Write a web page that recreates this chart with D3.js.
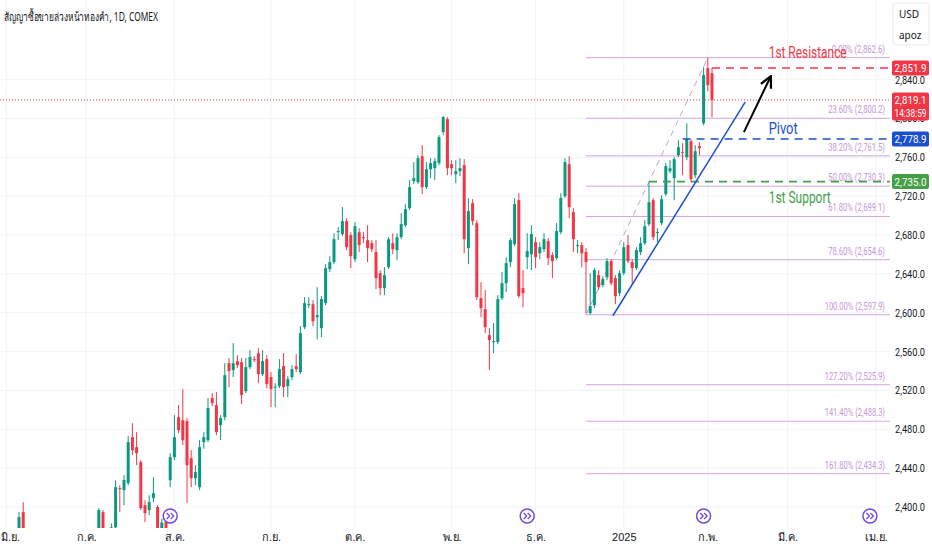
<!DOCTYPE html>
<html>
<head>
<meta charset="utf-8">
<script src="https://cdn.jsdelivr.net/npm/d3@7"></script>
<style>
  body { margin: 0; background: #fff; }
  svg { display: block; font-family: "Noto Sans", "DejaVu Sans", Roboto, sans-serif; }
</style>
</head>
<body>
<script>
// daily bars, 3 Jun 2024 .. 4 Feb 2025 : [open, high, low, close]
const ohlc = [
  [2348, 2375, 2340, 2369], [2369, 2374, 2337, 2347], [2347, 2378, 2346, 2375], [2375, 2394.7, 2372, 2389.6],
  [2394.7, 2405, 2320, 2325], [2325, 2336, 2303, 2327], [2327, 2342, 2318, 2330], [2330, 2355, 2315, 2340],
  [2340, 2346, 2313, 2319], [2319, 2352, 2307, 2348], [2348, 2352, 2320, 2330], [2330, 2350, 2327, 2346],
  [2347, 2372, 2343, 2369], [2369, 2370, 2320, 2333], [2333, 2345, 2325, 2334], [2334, 2342, 2317, 2330],
  [2330, 2334, 2305, 2313], [2313, 2338, 2310, 2336], [2336, 2346, 2326, 2339], [2339, 2342, 2326, 2333],
  [2333, 2345, 2325, 2341], [2341, 2372, 2338, 2369], [2369, 2398.8, 2362, 2396.8], [2394.7, 2396.8, 2355, 2365],
  [2365, 2373, 2354, 2371], [2371, 2383, 2366, 2379], [2379, 2427.6, 2370, 2420.4], [2419.4, 2422.5, 2394.7, 2418.4],
  [2417.4, 2432.8, 2401.9, 2427.7], [2424.6, 2472.9, 2422.5, 2466.8], [2471.9, 2486.3, 2453.4, 2458.5], [2461.6, 2477, 2443.1, 2455.4],
  [2446.2, 2448.2, 2396.8, 2398.8], [2401.9, 2407, 2384.4, 2393.7], [2396.8, 2412.2, 2391.6, 2405], [2409.1, 2430.7, 2405, 2414.3],
  [2400, 2402, 2353, 2362], [2362, 2388, 2355, 2384], [2384.6, 2390, 2368, 2374], [2427.6, 2455.4, 2420.4, 2451.3],
  [2451.3, 2494.6, 2448.2, 2471.9], [2492.5, 2504.9, 2476, 2479.1], [2489.4, 2521.3, 2463.7, 2468.8], [2488.4, 2491.5, 2404, 2443.1],
  [2450.3, 2458.5, 2420.4, 2429.7], [2429.7, 2443.1, 2422.5, 2435.9], [2420.4, 2468.8, 2417.4, 2461.6], [2466.8, 2477, 2460, 2471.9],
  [2468.8, 2512.1, 2466.8, 2501.8], [2512.1, 2517.2, 2503.8, 2506.9], [2504.9, 2518.2, 2474, 2477.1], [2484.3, 2494.6, 2468.8, 2491.5],
  [2492.5, 2548.1, 2489.4, 2535.7], [2548.1, 2553.3, 2523.4, 2539.9], [2540.9, 2568.7, 2533.7, 2548.1], [2550.2, 2556.3, 2543, 2546],
  [2549.1, 2553.3, 2505.9, 2515.2], [2519.3, 2553.3, 2517.2, 2544], [2544, 2561.5, 2541.9, 2554.3], [2552.2, 2555.3, 2549.1, 2551.7],
  [2558.4, 2563.5, 2527.5, 2536.8], [2536.8, 2561.5, 2534.7, 2550.2], [2552.2, 2556.3, 2522.4, 2526.5], [2533.7, 2538.8, 2502.8, 2521.3],
  [2523.4, 2527.5, 2502.8, 2523.9], [2524.4, 2552.2, 2522.4, 2541.9], [2545, 2558.4, 2513.1, 2523.4], [2524.4, 2534.7, 2513.1, 2531.6],
  [2533.7, 2546, 2530.6, 2541.9], [2545, 2557.4, 2538.8, 2541.9], [2538.8, 2586.2, 2536.8, 2579], [2585.1, 2616, 2583.1, 2609.9],
  [2607.8, 2616, 2604.7, 2608.8], [2608.8, 2613, 2586.2, 2591.3], [2595.4, 2626.3, 2572.8, 2597.5], [2584.1, 2617.1, 2574.9, 2614],
  [2609.9, 2650, 2607.8, 2645.9], [2644.9, 2658.2, 2641.8, 2652.1], [2652.1, 2681.9, 2650, 2675.7], [2682.9, 2688.1, 2674.7, 2684],
  [2680.9, 2708.7, 2678.8, 2694.3], [2694.3, 2697.4, 2664.4, 2667.5], [2679.9, 2682.9, 2645.9, 2658.2], [2655.1, 2693.2, 2652.1, 2689.1],
  [2682.9, 2687, 2662.4, 2669.6], [2677.8, 2682.9, 2671.6, 2677.3], [2674.7, 2690.1, 2652.1, 2666.5], [2671.6, 2674.7, 2662.4, 2665.4],
  [2662.4, 2674.7, 2624.3, 2635.6], [2640.7, 2643.8, 2618.1, 2625.3], [2625.3, 2646.9, 2618.1, 2638.7], [2646.9, 2677.8, 2644.9, 2675.7],
  [2671.6, 2681.9, 2660.3, 2665.4], [2664.4, 2681.9, 2654.1, 2677.8], [2677.8, 2702.5, 2675.7, 2691.2], [2690.1, 2711.8, 2688.1, 2706.6],
  [2707.6, 2736.5, 2705.6, 2729.3], [2735.4, 2755, 2732.4, 2738.5], [2734.4, 2762.2, 2732.4, 2759.1], [2761.2, 2772.5, 2722.1, 2729.3],
  [2729.3, 2755, 2727.2, 2747.8], [2747.8, 2759.1, 2738.5, 2754], [2748.8, 2759.1, 2736.5, 2756], [2754, 2782.8, 2751.9, 2780.7],
  [2785.9, 2802.4, 2782.8, 2801.3], [2799.3, 2801.3, 2741.6, 2748.8], [2752.9, 2757, 2741.6, 2748.8], [2742.6, 2757, 2733.4, 2745.7],
  [2745.7, 2759.1, 2740.6, 2748.8], [2751.9, 2758.1, 2661.3, 2675.7], [2666.5, 2717.9, 2650, 2704.6], [2712.8, 2716.9, 2690.1, 2694.3],
  [2692.2, 2695.3, 2613, 2616], [2615, 2631.5, 2595.4, 2604.7], [2603.7, 2623.2, 2579, 2585.1], [2576.9, 2584.1, 2540.9, 2571.8],
  [2569.7, 2589.3, 2558.4, 2570.7], [2569.7, 2618.1, 2567.6, 2614], [2615, 2641.8, 2613, 2630.4], [2630.4, 2657.2, 2621.2, 2651],
  [2652.1, 2676.8, 2646.9, 2674.7], [2670.6, 2717.9, 2668.5, 2711.8], [2715.9, 2723.1, 2615, 2617.1], [2625.3, 2643.8, 2605.7, 2620.1],
  [2657.2, 2681.9, 2644.9, 2663.4], [2660.3, 2690.1, 2643.8, 2680.9], [2672.6, 2677.8, 2645.9, 2657.2], [2661.3, 2672.6, 2655.1, 2667.5],
  [2665.4, 2681.9, 2662.4, 2675.7], [2673.7, 2676.8, 2649, 2656.2], [2659.3, 2662.4, 2635.6, 2653.1], [2656.2, 2692.2, 2654.1, 2684],
  [2682.9, 2723.1, 2680.9, 2718], [2720, 2759.1, 2718, 2755], [2752.9, 2761.2, 2697.4, 2708.7], [2703.5, 2707.6, 2662.4, 2675.7],
  [2668.5, 2674.7, 2661.3, 2669.6], [2669.6, 2672.6, 2646.9, 2661.3], [2662.4, 2666.5, 2599.6, 2652.1], [2599.6, 2640.7, 2597.9, 2606.8],
  [2607.8, 2645.9, 2604.7, 2643.8], [2638.7, 2643.8, 2623.2, 2626.3], [2628.4, 2637.6, 2626.3, 2634.6], [2636.6, 2656.2, 2633.5, 2653.1],
  [2653.1, 2655.1, 2628.4, 2630.4], [2635.6, 2638.7, 2608.8, 2617.1], [2620.1, 2643.8, 2617.1, 2640.7], [2640.7, 2672.6, 2638.7, 2667.5],
  [2669.6, 2679.9, 2651, 2653.1], [2652.1, 2655.1, 2628.4, 2645.9], [2645.9, 2667.5, 2643.8, 2664.4], [2662.4, 2677.8, 2659.3, 2671.6],
  [2671.6, 2695.3, 2669.6, 2689.1], [2691.2, 2734.4, 2689.1, 2713.8], [2715.9, 2718, 2674.7, 2677.8], [2681.9, 2687, 2672.6, 2682.9],
  [2692.2, 2721, 2690.1, 2716.9], [2722.1, 2754, 2720, 2750.9], [2745.7, 2757, 2743.7, 2748.8], [2738.5, 2760.1, 2715.9, 2758.1],
  [2762.2, 2777.6, 2760.1, 2770.4], [2765.3, 2774.6, 2741.6, 2764.3], [2760.1, 2795.1, 2757, 2778.7], [2776.6, 2778.7, 2734.4, 2737.5],
  [2741.6, 2772.5, 2738.5, 2766.3], [2771.5, 2775.6, 2762.2, 2769.4], [2795.1, 2852.8, 2793, 2844.6], [2851.8, 2862.6, 2828, 2834.3],
  [2846.6, 2852, 2801.3, 2819.1],
];

const monthLabels = ["มิ.ย.", "ก.ค.", "ส.ค.", "ก.ย.", "ต.ค.", "พ.ย.", "ธ.ค.", "2025", "ก.พ.", "มี.ค.", "เม.ย."];
const monthIdx = [0, 19, 40, 63, 83, 106, 126, 147, 167, 186, 207];
const priceTicks = [2400, 2440, 2480, 2520, 2560, 2600, 2640, 2680, 2720, 2760, 2800, 2840];

const fibPct = ["0.00%", "23.60%", "38.20%", "50.00%", "61.80%", "78.60%", "100.00%", "127.20%", "141.40%", "161.80%"];
const fibPrice = [2862.6, 2800.2, 2761.5, 2730.3, 2699.1, 2654.6, 2597.9, 2525.9, 2488.3, 2434.3];
const fibStart = 138;
const fibTrend = [[138, 2597.9], [167, 2862.6]];

const levelNames = ["1st Resistance", "Pivot", "1st Support"];
const levelPrices = [2851.9, 2778.9, 2735.0];
const levelStart = [168, 161, 153];
const levelColors = ["#f23645", "#1c4fcf", "#43a047"];

const trendLine = [[144.4, 2596.9], [175.9, 2816.8]];
const arrowPts = [[175.6, 2785.9], [182, 2843.5]];
const rollIdx = [39, 124, 166, 205.6];

const lastPrice = 2819.1;
const countdown = "14:38:59";
const title = "สัญญาซื้อขายล่วงหน้าทองคำ, 1D, COMEX";

const w = 932;
const h = 550;
const plotR = 890;
const plotB = 528;
const up = "#089981";
const down = "#f23645";
const narrow = "Roboto, 'DejaVu Sans', sans-serif";

const xScale = d3.scaleLinear().domain([0, ohlc.length - 1]).range([6.4, 712]);
const yScale = d3.scaleLinear().domain([2400, 2840]).range([507, 79.6]);
const fmt = d3.format(",.1f");

const svg = d3.select("body").append("svg").attr("width", w).attr("height", h);

svg.append("defs").append("clipPath").attr("id", "plot")
  .append("rect").attr("x", 0).attr("y", 0).attr("width", plotR).attr("height", plotB);

svg.select("defs").append("marker")
  .attr("id", "head").attr("viewBox", "0 0 10 10")
  .attr("refX", 9).attr("refY", 5)
  .attr("markerWidth", 14).attr("markerHeight", 14)
  .attr("markerUnits", "userSpaceOnUse").attr("orient", "auto")
  .append("path").attr("d", "M1,1 L9,5 L1,9")
  .attr("fill", "none").attr("stroke", "#000").attr("stroke-width", 1.6);

//grid
const grid = svg.append("g").attr("clip-path", "url(#plot)");
grid.selectAll("line.h").data(priceTicks).enter().append("line")
  .attr("x1", 0).attr("x2", plotR)
  .attr("y1", (d) => yScale(d)).attr("y2", (d) => yScale(d))
  .attr("stroke", "#f0f3fa");
grid.selectAll("line.v").data(monthIdx).enter().append("line")
  .attr("x1", (d) => xScale(d)).attr("x2", (d) => xScale(d))
  .attr("y1", 0).attr("y2", plotB)
  .attr("stroke", "#f0f3fa");

const plot = svg.append("g").attr("clip-path", "url(#plot)");

// fib retracement
plot.selectAll("line.fib").data(fibPrice).enter().append("line")
  .attr("x1", xScale(fibStart)).attr("x2", plotR)
  .attr("y1", (d) => yScale(d)).attr("y2", (d) => yScale(d))
  .attr("stroke", "#d4a5df").attr("stroke-width", 1);

plot.selectAll("text.fib").data(fibPrice).enter().append("text")
  .attr("x", 885).attr("y", (d) => yScale(d) - 5)
  .attr("text-anchor", "end").attr("font-size", 11).attr("fill", "#c796d6")
  .attr("font-family", narrow)
  .attr("lengthAdjust", "spacingAndGlyphs")
  .attr("textLength", (d, i) => `${fibPct[i]} (${fmt(d)})`.length * 3.55)
  .text((d, i) => `${fibPct[i]} (${fmt(d)})`);

plot.append("line")
  .attr("x1", xScale(fibTrend[0][0])).attr("y1", yScale(fibTrend[0][1]))
  .attr("x2", xScale(fibTrend[1][0])).attr("y2", yScale(fibTrend[1][1]))
  .attr("stroke", "#c99ad6").attr("stroke-width", 1).attr("stroke-dasharray", "6,5");

// last price dotted
plot.append("line")
  .attr("x1", 0).attr("x2", plotR)
  .attr("y1", yScale(lastPrice)).attr("y2", yScale(lastPrice))
  .attr("stroke", down).attr("stroke-width", 1).attr("stroke-dasharray", "1,2");

// candles
const candle = plot.selectAll("g.c").data(ohlc).enter().append("g");
candle.append("line")
  .attr("x1", (d, i) => xScale(i)).attr("x2", (d, i) => xScale(i))
  .attr("y1", (d) => yScale(d[1])).attr("y2", (d) => yScale(d[2]))
  .attr("stroke", (d) => (d[3] >= d[0] ? up : down)).attr("stroke-width", 1);
candle.append("rect")
  .attr("x", (d, i) => xScale(i) - 1.5)
  .attr("width", 3)
  .attr("y", (d) => yScale(Math.max(d[0], d[3])))
  .attr("height", (d) => Math.max(1, Math.abs(yScale(d[0]) - yScale(d[3]))))
  .attr("fill", (d) => (d[3] >= d[0] ? up : down));

// level lines
plot.selectAll("line.lvl").data(levelPrices).enter().append("line")
  .attr("x1", (d, i) => xScale(levelStart[i])).attr("x2", plotR)
  .attr("y1", (d) => yScale(d)).attr("y2", (d) => yScale(d))
  .attr("stroke", (d, i) => levelColors[i]).attr("stroke-width", 1.6)
  .attr("stroke-dasharray", "8,6");

plot.selectAll("text.lvl").data(levelPrices).enter().append("text")
  .attr("x", xScale(181.5))
  .attr("y", (d, i) => yScale(d) + [-10, -5, 21][i])
  .attr("font-size", 16).attr("fill", (d, i) => levelColors[i])
  .attr("font-family", narrow)
  .attr("lengthAdjust", "spacingAndGlyphs")
  .attr("textLength", (d, i) => [78, 29, 62][i])
  .text((d, i) => levelNames[i]);

// trend line + arrow
plot.append("line")
  .attr("x1", xScale(trendLine[0][0])).attr("y1", yScale(trendLine[0][1]))
  .attr("x2", xScale(trendLine[1][0])).attr("y2", yScale(trendLine[1][1]))
  .attr("stroke", "#1c4fcf").attr("stroke-width", 1.5);

plot.append("line")
  .attr("x1", xScale(arrowPts[0][0])).attr("y1", yScale(arrowPts[0][1]))
  .attr("x2", xScale(arrowPts[1][0])).attr("y2", yScale(arrowPts[1][1]))
  .attr("stroke", "#000").attr("stroke-width", 2)
  .attr("marker-end", "url(#head)");

// contract roll icons
const roll = svg.selectAll("g.roll").data(rollIdx).enter().append("g")
  .attr("transform", (d) => `translate(${xScale(d)},516)`);
roll.append("circle").attr("r", 7).attr("fill", "#fff")
  .attr("stroke", "#7448e0").attr("stroke-width", 1.5);
roll.append("path").attr("d", "M-3.5,-3 L-0.5,0 L-3.5,3 M0.5,-3 L3.5,0 L0.5,3")
  .attr("fill", "none").attr("stroke", "#7448e0").attr("stroke-width", 1.3);

// axes
const yAxis = d3.axisRight(yScale).tickValues(priceTicks).tickFormat(fmt).tickSize(0).tickPadding(5);
svg.append("g").attr("transform", "translate(" + plotR + ",0)").call(yAxis)
  .call((g) => g.select(".domain").remove())
  .selectAll("text").attr("font-size", 11).attr("fill", "#131722")
  .attr("font-family", narrow)
  .attr("lengthAdjust", "spacingAndGlyphs").attr("textLength", 30);

const xAxis = d3.axisBottom(xScale).tickValues(monthIdx).tickFormat((d, i) => monthLabels[i]).tickSize(0).tickPadding(5);
svg.append("g").attr("transform", "translate(0," + plotB + ")").call(xAxis)
  .call((g) => g.select(".domain").remove())
  .selectAll("text").attr("font-size", 11).attr("fill", "#131722")
  .attr("text-anchor", (d, i) => (i === 0 ? "start" : "middle"))
  .attr("dx", (d, i) => (i === 0 ? -6 : 0));

// price boxes on axis
const boxes = [
  { v: levelPrices[0], c: levelColors[0], t: [fmt(levelPrices[0])] },
  { v: lastPrice, c: down, t: [fmt(lastPrice), countdown] },
  { v: levelPrices[1], c: levelColors[1], t: [fmt(levelPrices[1])] },
  { v: levelPrices[2], c: levelColors[2], t: [fmt(levelPrices[2])] },
];
const box = svg.selectAll("g.box").data(boxes).enter().append("g")
  .attr("transform", (d) => `translate(892,${yScale(d.v) - 7.5})`);
box.append("rect").attr("width", 37).attr("height", (d) => 15 + (d.t.length - 1) * 13)
  .attr("rx", 2).attr("fill", (d) => d.c);
box.each(function (d) {
  d3.select(this).selectAll("text").data(d.t).enter().append("text")
    .attr("x", 18.5).attr("y", (t, i) => 11.5 + i * 13)
    .attr("text-anchor", "middle").attr("font-size", 11).attr("fill", "#fff")
    .attr("font-family", narrow)
    .attr("lengthAdjust", "spacingAndGlyphs").attr("textLength", 32)
    .text((t) => t);
});

// title + currency box
svg.append("text").attr("x", 4).attr("y", 21).attr("font-size", 12).attr("fill", "#131722")
  .attr("lengthAdjust", "spacingAndGlyphs").attr("textLength", 154)
  .text(title);

const cur = svg.append("g").attr("transform", "translate(893,3)");
cur.append("rect").attr("width", 36).attr("height", 42).attr("rx", 3)
  .attr("fill", "#fff").attr("stroke", "#e6e8ee");
cur.append("text").attr("x", 6).attr("y", 15).attr("font-size", 10).attr("fill", "#131722").text("USD");
cur.append("text").attr("x", 6).attr("y", 36).attr("font-size", 10).attr("fill", "#131722").text("apoz");
</script>
</body>
</html>
